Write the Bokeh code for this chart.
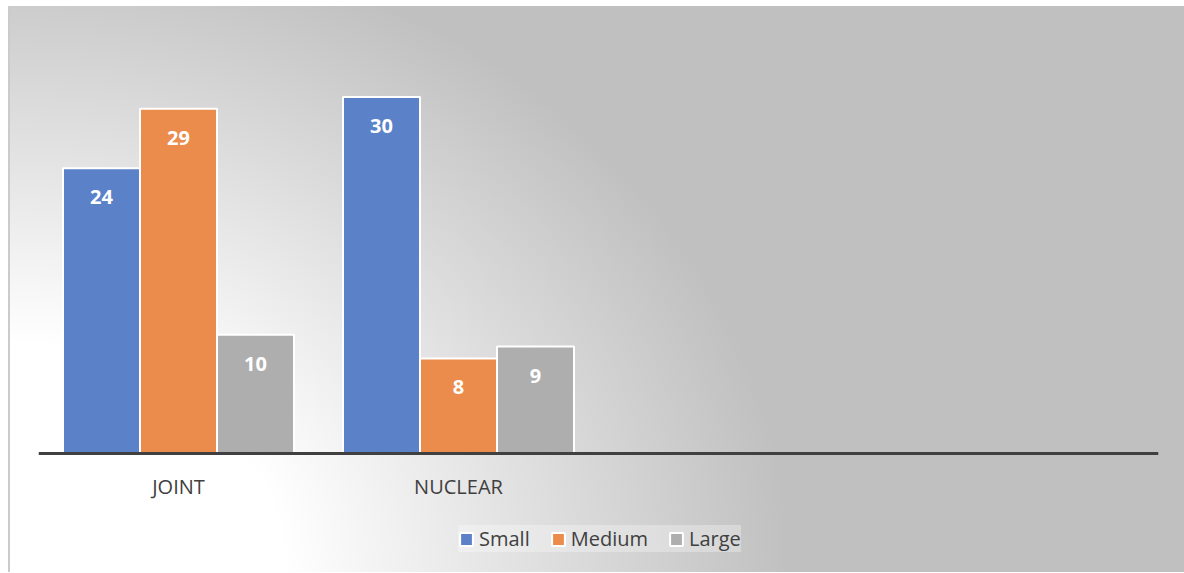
from bokeh.plotting import figure
from bokeh.models import ColumnDataSource, FactorRange, Range1d, Legend, LegendItem, Span
from bokeh.transform import dodge
from bokeh.core.properties import value
from bokeh.embed import file_html
from bokeh.resources import INLINE

# Household type counts by size
categories = ["JOINT", "NUCLEAR"]
blank_slots = [" ", "  "]          # unused category slots on the axis
series = ["Small", "Medium", "Large"]
small = [24, 30]
medium = [29, 8]
large = [10, 9]
colors = ["#5b82c9", "#ec8c4c", "#aeaeae"]

FONT = value("Open Sans")
TEXT_COLOR = "#404040"

values = {"Small": small, "Medium": medium, "Large": large}
data = {"cat": categories}
for name in series:
    data[name] = values[name]
    data[name + "_txt"] = [str(v) for v in values[name]]
src = ColumnDataSource(data)

# plot area: 416 px for the value range 0..35, plus a 119 px strip under the
# baseline that holds the category names and the legend
PLOT_PX, Y_MAX, STRIP_PX = 416, 35, 119
y_min = -STRIP_PX * Y_MAX / PLOT_PX

p = figure(
    x_range=FactorRange(*(categories + blank_slots), range_padding=0),
    y_range=Range1d(y_min, Y_MAX),
    frame_width=1120, frame_height=PLOT_PX + STRIP_PX,
    output_backend="svg", toolbar_location=None,
    min_border_left=30, min_border_right=26,
    min_border_top=31, min_border_bottom=0,
)
p.margin = (6, 0, 0, 8)
p.styles = {
    "background": "radial-gradient(ellipse 780px 650px at 2px 566px, #ffffff 0%, #ffffff 35%, #c0c0c0 100%)",
    "box-shadow": "inset 2px 0 0 #cbcbcb",
}
p.border_fill_color = None
p.background_fill_color = None
p.outline_line_color = None
p.xgrid.visible = False
p.ygrid.visible = False
p.yaxis.visible = False
p.xaxis.visible = False

bar_w = 0.275
offsets = [-bar_w, 0.0, bar_w]
items = []
for name, off, col in zip(series, offsets, colors):
    r = p.vbar(x=dodge("cat", off, range=p.x_range), top=name, bottom=0, width=bar_w,
               source=src, fill_color=col, line_color="white", line_width=2)
    p.text(x=dodge("cat", off, range=p.x_range), y=name, text=name + "_txt",
           source=src, text_color="white", text_font=FONT,
           text_font_style="bold", text_font_size="20px",
           text_align="center", text_baseline="middle", y_offset=29)
    items.append(LegendItem(label=name, renderers=[r]))

# baseline and category names
p.add_layout(Span(location=0, dimension="width", line_color=TEXT_COLOR, line_width=3))
cat_src = ColumnDataSource(dict(cat=categories, zero=[0] * len(categories)))
p.text(x="cat", y="zero", text="cat", source=cat_src, text_color=TEXT_COLOR,
       text_font=FONT, text_font_size="20px", text_align="center",
       text_baseline="middle", y_offset=33)

# legend sits under the category names, centred on the plot area
legend = Legend(
    items=items, orientation="horizontal", location=(420, 20),
    label_text_font="Open Sans", label_text_font_size="20px",
    label_text_color=TEXT_COLOR, label_height=24,
    glyph_width=16, glyph_height=16, label_standoff=5, spacing=20,
    padding=11, margin=0,
    background_fill_color="white", background_fill_alpha=0.3,
    border_line_color=None,
)
p.add_layout(legend, "center")

open("out.html", "w").write(file_html(p, INLINE))
